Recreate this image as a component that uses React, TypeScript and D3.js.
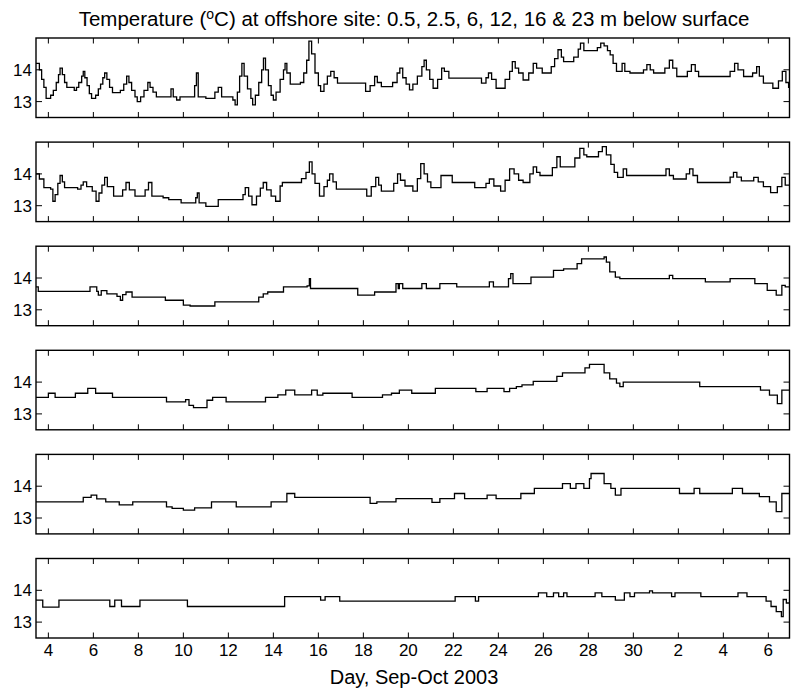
import React, { useEffect, useRef } from "react";
import * as d3 from "d3";

// days counted from 1 Sep 2003 (so 1 Oct = 31)
const depths = ["0.5", "2.5", "6", "12", "16", "23"];
const xTicks = [4, 6, 8, 10, 12, 14, 16, 18, 20, 22, 24, 26, 28, 30, 32, 34, 36];
const xTickLabels = ["4", "6", "8", "10", "12", "14", "16", "18", "20", "22", "24", "26", "28", "30", "2", "4", "6"];
const yTicks = [13, 14];

// [day, temperature] at each change of level
const t05 = [
  [3.45, 14.2], [3.6, 14.0], [3.7, 13.7], [3.8, 13.45], [3.9, 13.1], [4.1, 13.2], [4.22, 13.35], [4.35, 13.6], [4.45, 13.85], [4.52, 14.05],
  [4.62, 13.85], [4.72, 13.6], [4.82, 13.45], [5.15, 13.35], [5.25, 13.45], [5.35, 13.6], [5.48, 13.8], [5.55, 13.95], [5.62, 13.75], [5.72, 13.5],
  [5.82, 13.25], [5.92, 13.1], [6.1, 13.2], [6.22, 13.4], [6.32, 13.55], [6.42, 13.75], [6.5, 13.9], [6.6, 13.7], [6.72, 13.45], [6.85, 13.28],
  [7.2, 13.35], [7.35, 13.55], [7.48, 13.8], [7.58, 13.6], [7.7, 13.35], [7.85, 13.15], [7.95, 13.0], [8.1, 13.15], [8.25, 13.35], [8.42, 13.6],
  [8.52, 13.45], [8.65, 13.3], [8.8, 13.15], [9.45, 13.4], [9.55, 13.15], [9.7, 13.05], [9.85, 13.15], [10.5, 13.5], [10.58, 13.9], [10.66, 13.15],
  [11.0, 13.1], [11.4, 13.3], [11.55, 13.45], [11.7, 13.15], [12.2, 13.05], [12.3, 12.9], [12.4, 13.3], [12.5, 13.8], [12.6, 14.2], [12.7, 13.8],
  [12.85, 13.4], [13.0, 13.1], [13.08, 12.9], [13.2, 13.2], [13.35, 13.6], [13.48, 14.0], [13.56, 14.37], [13.65, 14.0], [13.78, 13.5], [13.9, 13.2],
  [14.0, 13.05], [14.12, 13.3], [14.3, 13.7], [14.45, 14.0], [14.52, 14.2], [14.6, 13.9], [14.75, 13.55], [15.2, 13.6], [15.35, 13.9], [15.48, 14.3],
  [15.58, 14.9], [15.7, 14.5], [15.85, 13.9], [16.0, 13.5], [16.1, 13.32], [16.25, 13.55], [16.4, 13.8], [16.55, 13.95], [16.7, 13.75], [16.85, 13.58],
  [18.1, 13.32], [18.3, 13.5], [18.5, 13.79], [18.62, 13.6], [18.8, 13.47], [19.3, 13.6], [19.5, 13.9], [19.62, 14.05], [19.75, 13.75], [19.9, 13.55],
  [20.05, 13.37], [20.2, 13.55], [20.4, 13.8], [20.6, 14.1], [20.7, 14.3], [20.8, 14.0], [20.95, 13.7], [21.1, 13.42], [21.3, 13.7], [21.48, 14.05],
  [21.6, 13.95], [21.8, 13.74], [23.25, 13.58], [23.45, 13.75], [23.56, 13.9], [23.7, 13.7], [23.9, 13.42], [24.3, 13.7], [24.5, 13.95], [24.62, 14.26],
  [24.75, 14.05], [24.9, 13.9], [25.1, 13.68], [25.35, 13.9], [25.55, 14.2], [25.7, 14.05], [25.95, 13.9], [26.35, 14.1], [26.5, 14.35], [26.65, 14.63],
  [26.8, 14.4], [26.9, 14.26], [27.35, 14.4], [27.55, 14.65], [27.65, 14.84], [27.8, 14.6], [28.4, 14.7], [28.55, 14.84], [28.7, 14.75], [28.85, 14.6],
  [28.97, 14.47], [29.1, 14.2], [29.25, 13.95], [29.5, 14.2], [29.62, 13.95], [29.85, 13.9], [30.45, 14.0], [30.6, 14.16], [30.75, 14.0], [30.9, 13.9],
  [31.4, 14.05], [31.6, 14.3], [31.75, 14.05], [31.93, 13.79], [32.4, 13.95], [32.58, 14.16], [32.75, 13.95], [32.9, 13.79], [34.3, 13.95], [34.5, 14.2],
  [34.65, 14.0], [34.9, 13.79], [35.3, 13.9], [35.48, 14.1], [35.6, 13.8], [35.78, 13.58], [36.2, 13.42], [36.45, 13.65], [36.62, 13.95], [36.78, 13.6],
  [36.9, 13.45],
];

const t25 = [
  [3.45, 14.0], [3.6, 13.84], [3.8, 13.57], [4.1, 13.52], [4.2, 13.14], [4.3, 13.35], [4.42, 13.7], [4.52, 13.95], [4.62, 13.75], [4.72, 13.57],
  [5.3, 13.52], [5.45, 13.65], [5.55, 13.75], [5.7, 13.6], [5.95, 13.46], [6.12, 13.14], [6.25, 13.4], [6.38, 13.65], [6.5, 13.89], [6.62, 13.6],
  [6.9, 13.3], [7.3, 13.5], [7.45, 13.73], [7.6, 13.5], [7.85, 13.3], [8.3, 13.5], [8.45, 13.73], [8.6, 13.3], [9.1, 13.25], [9.35, 13.19],
  [9.9, 13.09], [10.55, 13.25], [10.62, 13.4], [10.7, 13.09], [11.0, 12.98], [11.55, 13.19], [12.65, 13.35], [12.75, 13.57], [12.9, 13.3], [13.05, 13.03],
  [13.25, 13.3], [13.42, 13.55], [13.55, 13.73], [13.7, 13.5], [13.9, 13.3], [14.1, 13.14], [14.3, 13.62], [14.4, 13.73], [15.25, 13.85], [15.45, 14.05],
  [15.6, 14.38], [15.72, 14.0], [15.85, 13.7], [16.05, 13.3], [16.25, 13.6], [16.4, 13.8], [16.5, 14.0], [16.65, 13.75], [16.8, 13.52], [18.15, 13.3],
  [18.35, 13.6], [18.55, 13.89], [18.68, 13.65], [18.8, 13.46], [19.35, 13.7], [19.52, 14.0], [19.65, 13.8], [19.85, 13.62], [20.2, 13.46], [20.4, 13.85],
  [20.55, 14.32], [20.7, 14.0], [20.85, 13.75], [21.0, 13.57], [21.45, 13.95], [21.95, 13.73], [22.95, 13.57], [23.45, 13.7], [23.6, 13.84], [23.8, 13.62],
  [24.1, 13.46], [24.3, 13.8], [24.5, 14.16], [24.7, 14.0], [24.9, 13.8], [25.1, 13.73], [25.4, 14.0], [25.55, 14.22], [25.7, 14.05], [25.85, 13.95],
  [26.4, 14.2], [26.6, 14.54], [26.75, 14.22], [27.4, 14.5], [27.62, 14.8], [27.8, 14.6], [27.93, 14.54], [28.45, 14.7], [28.62, 14.86], [28.8, 14.6],
  [29.0, 14.3], [29.15, 14.05], [29.3, 13.89], [29.55, 14.16], [29.7, 13.95], [31.45, 14.16], [31.6, 13.95], [31.78, 13.84], [32.35, 14.0], [32.5, 14.16],
  [32.65, 13.95], [32.85, 13.73], [34.3, 13.9], [34.45, 14.05], [34.6, 13.9], [34.8, 13.78], [35.35, 13.89], [35.55, 13.75], [35.78, 13.6], [36.1, 13.41],
  [36.4, 13.6], [36.6, 13.89], [36.75, 13.65],
];

const t6 = [
  [3.45, 13.72], [3.55, 13.58], [5.85, 13.72], [6.15, 13.58], [6.22, 13.46], [6.35, 13.6], [6.6, 13.5], [7.05, 13.42], [7.2, 13.3], [7.3, 13.48],
  [7.45, 13.56], [7.72, 13.4], [9.2, 13.3], [10.0, 13.15], [10.3, 13.12], [11.4, 13.25], [13.35, 13.4], [13.55, 13.5], [13.75, 13.56], [14.45, 13.72],
  [15.5, 13.75], [15.6, 13.98], [15.65, 13.67], [17.75, 13.46], [18.5, 13.56], [19.45, 13.82], [19.55, 13.67], [19.6, 13.82], [19.75, 13.67], [20.6, 13.82],
  [20.8, 13.67], [21.4, 13.82], [22.15, 13.72], [23.6, 13.88], [23.78, 13.72], [24.45, 13.98], [24.55, 14.14], [24.65, 13.82], [25.45, 14.03], [26.45, 14.24],
  [26.9, 14.29], [27.5, 14.45], [27.7, 14.6], [28.7, 14.66], [28.8, 14.5], [28.95, 14.19], [29.2, 14.03], [29.4, 13.98], [31.6, 14.08], [31.75, 13.98],
  [33.2, 13.88], [34.3, 13.98], [35.4, 13.82], [35.95, 13.61], [36.35, 13.46], [36.6, 13.77], [36.75, 13.72],
];

const t12 = [
  [3.45, 13.52], [4.0, 13.65], [4.3, 13.52], [5.2, 13.65], [5.75, 13.8], [6.1, 13.65], [6.85, 13.52], [9.25, 13.38], [10.1, 13.45], [10.25, 13.27],
  [10.45, 13.2], [11.05, 13.43], [11.3, 13.52], [11.9, 13.38], [13.65, 13.52], [14.2, 13.6], [14.55, 13.75], [14.95, 13.6], [15.7, 13.75], [15.95, 13.59],
  [16.2, 13.65], [17.5, 13.52], [18.85, 13.6], [19.25, 13.65], [19.6, 13.75], [20.15, 13.65], [21.2, 13.8], [23.0, 13.7], [23.5, 13.8], [24.25, 13.7],
  [24.5, 13.8], [24.8, 13.86], [25.05, 13.91], [25.55, 14.02], [26.6, 14.18], [26.85, 14.29], [27.85, 14.45], [28.05, 14.56], [28.7, 14.29], [28.95, 14.1],
  [29.25, 13.97], [29.4, 13.86], [29.55, 14.0], [32.95, 13.86], [35.65, 13.75], [36.05, 13.59], [36.4, 13.32], [36.6, 13.75],
];

const t16 = [
  [3.45, 13.51], [5.55, 13.65], [5.9, 13.72], [6.15, 13.6], [6.55, 13.51], [7.15, 13.41], [7.75, 13.51], [9.25, 13.35], [9.5, 13.3], [10.0, 13.25],
  [10.5, 13.32], [11.25, 13.51], [12.35, 13.35], [13.9, 13.51], [14.6, 13.77], [14.95, 13.65], [18.3, 13.46], [18.6, 13.51], [19.45, 13.61], [21.05, 13.49],
  [21.4, 13.61], [22.05, 13.77], [22.5, 13.61], [23.5, 13.72], [23.9, 13.61], [25.0, 13.77], [25.6, 13.93], [26.85, 14.08], [27.2, 13.93], [27.45, 14.08],
  [27.8, 13.93], [28.05, 14.24], [28.12, 14.4], [28.7, 14.08], [29.0, 13.93], [29.2, 13.72], [29.45, 13.93], [32.05, 13.77], [32.7, 13.93], [32.95, 13.77],
  [34.4, 13.93], [34.85, 13.77], [35.6, 13.67], [36.05, 13.51], [36.35, 13.2], [36.6, 13.77],
];

const t23 = [
  [3.45, 13.69], [3.75, 13.47], [4.47, 13.69], [6.73, 13.49], [6.95, 13.69], [7.25, 13.49], [8.07, 13.69], [10.18, 13.49], [14.5, 13.8], [16.1, 13.69],
  [16.3, 13.8], [16.95, 13.66], [22.08, 13.8], [22.98, 13.66], [23.12, 13.8], [25.78, 13.92], [26.15, 13.8], [26.45, 13.92], [26.68, 13.8], [26.9, 13.92],
  [27.05, 13.8], [28.3, 13.92], [28.6, 13.8], [29.2, 13.69], [29.6, 13.92], [29.85, 13.8], [30.05, 13.92], [30.72, 13.98], [30.85, 13.92], [31.7, 13.8],
  [31.85, 13.92], [33.0, 13.8], [34.65, 13.92], [35.05, 13.8], [35.9, 13.66], [36.12, 13.49], [36.35, 13.33], [36.58, 13.17], [36.66, 13.71], [36.8, 13.6],
];

const series = [t05, t25, t6, t12, t16, t23];

const App = () => {
  const ref = useRef(null);

  useEffect(() => {
    document.body.style.margin = "0";
    const svg = d3.select(ref.current);
    svg.selectAll("*").remove();

    const width = 791;
    const height = 692;
    const left = 36;
    const right = 789.5;
    const firstTop = 38;
    const step = 104.1;
    const panelH = 79.5;
    const font = "'Liberation Sans', Arial, Helvetica, sans-serif";

    svg.attr("width", width).attr("height", height);
    svg.append("rect").attr("width", width).attr("height", height).attr("fill", "#fff");

    const x = d3.scaleLinear().domain([3.45, 36.94]).range([left, right]);

    // title
    const title = svg
      .append("text")
      .attr("x", 414)
      .attr("y", 26)
      .attr("text-anchor", "middle")
      .attr("font-family", font)
      .attr("font-size", 20.5)
      .attr("fill", "#000");
    title.append("tspan").text("Temperature (");
    title.append("tspan").attr("font-size", 14).attr("dy", -7).text("o");
    title.append("tspan").attr("dy", 7).text(`C) at offshore site: ${depths.join(", ").replace(", 23", " & 23")} m below surface`);

    series.forEach((data, i) => {
      const top = firstTop + i * step;
      const y = d3.scaleLinear().domain([12.5, 15]).range([top + panelH, top]);
      const g = svg.append("g");

      // the trace
      const line = d3
        .line()
        .x((d) => x(d[0]))
        .y((d) => y(d[1]))
        .curve(d3.curveStepAfter);
      const last = data[data.length - 1];
      g.append("path")
        .datum([...data, [36.94, last[1]]])
        .attr("fill", "none")
        .attr("stroke", "#000")
        .attr("stroke-width", 1.3)
        .attr("d", line);

      // box
      g.append("rect")
        .attr("x", left)
        .attr("y", top)
        .attr("width", right - left)
        .attr("height", panelH)
        .attr("fill", "none")
        .attr("stroke", "#000")
        .attr("stroke-width", 1.4);

      // x ticks, inside, top and bottom
      xTicks.forEach((t) => {
        g.append("line")
          .attr("x1", x(t)).attr("x2", x(t))
          .attr("y1", top).attr("y2", top + 5.5)
          .attr("stroke", "#000");
        g.append("line")
          .attr("x1", x(t)).attr("x2", x(t))
          .attr("y1", top + panelH).attr("y2", top + panelH - 5.5)
          .attr("stroke", "#000");
      });

      // y ticks, inside, left and right
      yTicks.forEach((t) => {
        g.append("line")
          .attr("x1", left).attr("x2", left + 6)
          .attr("y1", y(t)).attr("y2", y(t))
          .attr("stroke", "#000");
        g.append("line")
          .attr("x1", right).attr("x2", right - 6)
          .attr("y1", y(t)).attr("y2", y(t))
          .attr("stroke", "#000");
        g.append("text")
          .attr("x", left - 4)
          .attr("y", y(t) + 6)
          .attr("text-anchor", "end")
          .attr("font-family", font)
          .attr("font-size", 17)
          .attr("fill", "#000")
          .text(t);
      });

      if (i === series.length - 1) {
        xTicks.forEach((t, k) => {
          g.append("text")
            .attr("x", x(t))
            .attr("y", top + panelH + 17.5)
            .attr("text-anchor", "middle")
            .attr("font-family", font)
            .attr("font-size", 17)
            .attr("fill", "#000")
            .text(xTickLabels[k]);
        });
      }
    });

    svg
      .append("text")
      .attr("x", 414)
      .attr("y", 684)
      .attr("text-anchor", "middle")
      .attr("font-family", font)
      .attr("font-size", 20)
      .attr("fill", "#000")
      .text("Day, Sep-Oct 2003");
  }, []);

  return <svg ref={ref} style={{ position: "absolute", left: 0, top: 0 }} />;
};

export default App;
